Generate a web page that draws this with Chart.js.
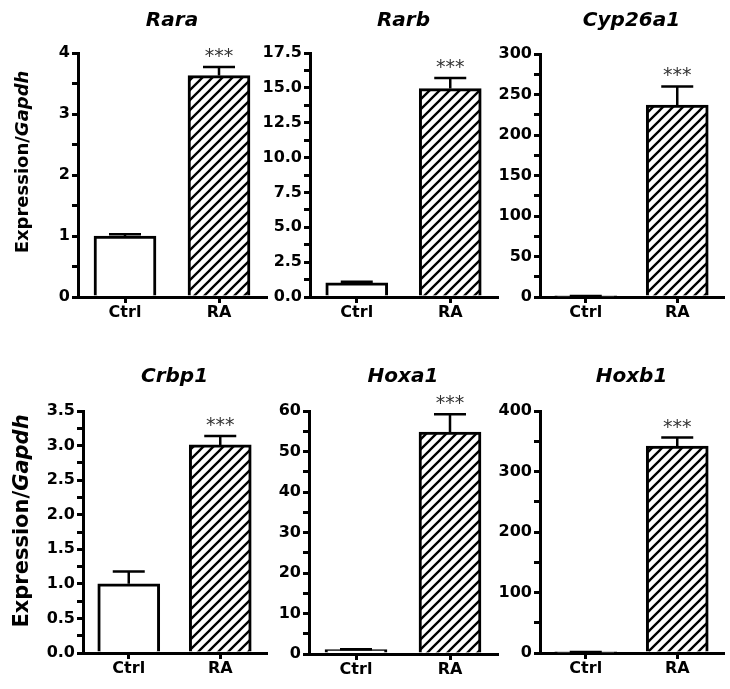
<!DOCTYPE html>
<html>
<head>
<meta charset="utf-8">
<script src="https://cdn.jsdelivr.net/npm/chart.js@4.4.0/dist/chart.umd.min.js"></script>
<style>
  body { margin: 0; background: #fff; }
  #wrap { position: relative; width: 730px; height: 689px; }
  #wrap canvas { position: absolute; }
</style>
</head>
<body>
<div id="wrap"></div>
<script>
// --- dados ---
const categories = ['Ctrl', 'RA'];
const genes = ['Rara', 'Rarb', 'Cyp26a1', 'Crbp1', 'Hoxa1', 'Hoxb1'];
const ctrlMeans = [1.0, 1.02, 1.0, 1.0, 1.1, 1.0];
const ctrlErrors = [0.03, 0.07, 0.3, 0.18, 0.1, 0.5];
const raMeans = [3.63, 14.95, 237, 3.01, 54.8, 342];
const raErrors = [0.14, 0.75, 23, 0.13, 4.4, 14];
const significance = ['***', '***', '***', '***', '***', '***'];
const yMax = [4, 17.5, 300, 3.5, 60, 400];
const yMajorStep = [1, 2.5, 50, 0.5, 10, 100];
const yMinorStep = [0.5, 1.25, 25, 0.25, 5, 50];
const yDecimals = [0, 1, 0, 1, 0, 0];
const yTitleMain = 'Expression/';
const yTitleGene = 'Gapdh';

// --- posição de cada painel (pixels da página) ---
const layout = [
  { left: 0,   top: 0,   w: 270, h: 320, axisX: 78,  endX: 266, plotTop: 53,  zeroY: 297, titleY: 26,  yTitle: { x: 23, y: 162, size: 18 } },
  { left: 240, top: 0,   w: 260, h: 320, axisX: 310, endX: 497, plotTop: 53,  zeroY: 297, titleY: 26 },
  { left: 480, top: 0,   w: 250, h: 320, axisX: 540, endX: 723, plotTop: 54,  zeroY: 297, titleY: 26 },
  { left: 0,   top: 330, w: 270, h: 359, axisX: 83,  endX: 266, plotTop: 411, zeroY: 653, titleY: 382, yTitle: { x: 23, y: 521, size: 21 } },
  { left: 240, top: 330, w: 260, h: 359, axisX: 309, endX: 497, plotTop: 411, zeroY: 654, titleY: 382 },
  { left: 480, top: 330, w: 250, h: 359, axisX: 540, endX: 723, plotTop: 411, zeroY: 653, titleY: 382 }
];

Chart.defaults.font.family = '"DejaVu Sans", sans-serif';
Chart.defaults.color = '#000';

// hachura diagonal das barras RA
function makeHatch() {
  const s = 10;
  const c = document.createElement('canvas');
  c.width = s; c.height = s;
  const g = c.getContext('2d');
  g.fillStyle = '#fff';
  g.fillRect(0, 0, s, s);
  g.strokeStyle = '#000';
  g.lineWidth = 2.3;
  g.beginPath();
  g.moveTo(0, s); g.lineTo(s, 0);
  g.moveTo(-s / 2, s / 2); g.lineTo(s / 2, -s / 2);
  g.moveTo(s / 2, s * 1.5); g.lineTo(s * 1.5, s / 2);
  g.stroke();
  return g.createPattern(c, 'repeat');
}

// barras de erro, asteriscos, títulos
const decorPlugin = {
  id: 'decor',
  afterDraw(chart, args, opts) {
    const ctx = chart.ctx;
    const area = chart.chartArea;
    const yScale = chart.scales.y;
    const bars = chart.getDatasetMeta(0).data;
    ctx.save();
    ctx.strokeStyle = '#000';
    ctx.lineWidth = 2.5;
    bars.forEach((bar, i) => {
      const yErr = yScale.getPixelForValue(opts.means[i] + opts.errors[i]);
      ctx.beginPath();
      ctx.moveTo(bar.x, bar.y);
      ctx.lineTo(bar.x, yErr);
      ctx.moveTo(bar.x - 16, yErr);
      ctx.lineTo(bar.x + 16, yErr);
      ctx.stroke();
      if (i === 1 && opts.stars) {
        ctx.fillStyle = '#333';
        ctx.font = '19px "DejaVu Sans"';
        ctx.textAlign = 'center';
        ctx.textBaseline = 'alphabetic';
        ctx.fillText(opts.stars, bar.x, yErr - 5);
      }
    });

    ctx.fillStyle = '#000';
    ctx.font = 'italic bold 20px "DejaVu Sans"';
    ctx.textAlign = 'center';
    ctx.textBaseline = 'alphabetic';
    ctx.fillText(opts.title, (area.left + area.right) / 2, opts.titleY);

    if (opts.yTitle) {
      const t = opts.yTitle;
      const fMain = 'bold ' + t.size + 'px "DejaVu Sans"';
      const fGene = 'italic bold ' + t.size + 'px "DejaVu Sans"';
      ctx.font = fMain;
      const w1 = ctx.measureText(yTitleMain).width;
      ctx.font = fGene;
      const w2 = ctx.measureText(yTitleGene).width;
      ctx.translate(t.x, t.y);
      ctx.rotate(-Math.PI / 2);
      ctx.textAlign = 'left';
      ctx.textBaseline = 'middle';
      ctx.font = fMain;
      ctx.fillText(yTitleMain, -(w1 + w2) / 2, 0);
      ctx.font = fGene;
      ctx.fillText(yTitleGene, -(w1 + w2) / 2 + w1, 0);
    }
    ctx.restore();
  }
};

const wrap = document.getElementById('wrap');
const hatch = makeHatch();

genes.forEach((gene, p) => {
  const L = layout[p];
  const canvas = document.createElement('canvas');
  canvas.width = L.w;
  canvas.height = L.h;
  canvas.style.left = L.left + 'px';
  canvas.style.top = L.top + 'px';
  wrap.appendChild(canvas);

  const major = yMajorStep[p];
  const dec = yDecimals[p];

  new Chart(canvas.getContext('2d'), {
    type: 'bar',
    data: {
      labels: categories,
      datasets: [{
        data: [ctrlMeans[p], raMeans[p]],
        backgroundColor: ['#ffffff', hatch],
        borderColor: '#000',
        borderWidth: 3,
        barThickness: 62
      }]
    },
    options: {
      responsive: false,
      animation: false,
      devicePixelRatio: 1,
      layout: {
        padding: { top: L.plotTop - L.top, right: L.left + L.w - L.endX, bottom: 0, left: 0 }
      },
      plugins: {
        legend: { display: false },
        tooltip: { enabled: false },
        decor: {
          means: [ctrlMeans[p], raMeans[p]],
          errors: [ctrlErrors[p], raErrors[p]],
          stars: significance[p],
          title: gene,
          titleY: L.titleY - L.top,
          yTitle: L.yTitle ? { x: L.yTitle.x - L.left, y: L.yTitle.y - L.top, size: L.yTitle.size } : null
        }
      },
      scales: {
        x: {
          offset: true,
          grid: { offset: false, drawOnChartArea: false, drawTicks: true, tickLength: 6, color: '#000', lineWidth: 3 },
          border: { display: true, color: '#000', width: 3 },
          ticks: { font: { size: 16, weight: 'bold' }, color: '#000', padding: 0 },
          afterFit: s => { s.height = L.top + L.h - L.zeroY; }
        },
        y: {
          min: 0,
          max: yMax[p],
          grid: { drawOnChartArea: false, drawTicks: true, tickLength: 6, color: '#000', lineWidth: 3 },
          border: { display: true, color: '#000', width: 3 },
          ticks: {
            stepSize: yMinorStep[p],
            maxTicksLimit: 100,
            autoSkip: false,
            padding: 2,
            font: { size: 16, weight: 'bold' },
            color: '#000',
            callback: v => {
              const r = v / major;
              if (Math.abs(r - Math.round(r)) > 1e-6) return '';
              return v.toFixed(dec);
            }
          },
          afterFit: s => { s.width = L.axisX - L.left; }
        }
      }
    },
    plugins: [decorPlugin]
  });
});
</script>
</body>
</html>
